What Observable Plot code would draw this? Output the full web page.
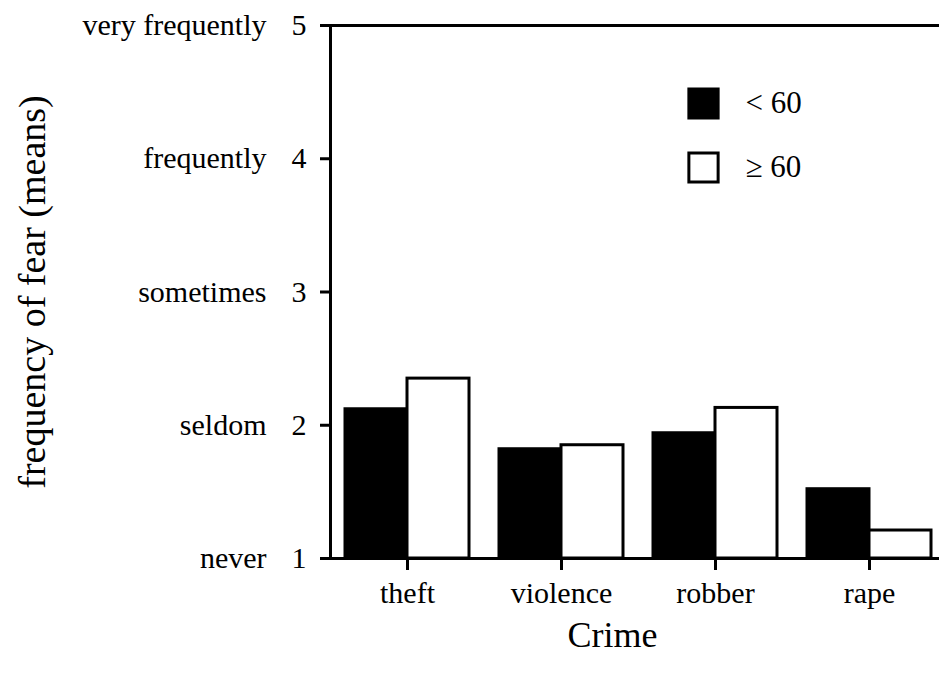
<!DOCTYPE html>
<html><head><meta charset="utf-8">
<script src="https://cdn.jsdelivr.net/npm/d3@7"></script>
<script src="https://cdn.jsdelivr.net/npm/@observablehq/plot@0.6"></script>
<style>
body{margin:0;background:#fff}
#chart{position:relative;width:939px;height:675px;overflow:hidden}
</style>
</head><body><div id="chart"></div>
<script>
const crimes = ["theft", "violence", "robber", "rape"];
const groups = ["< 60", "≥ 60"];
const under60 = [2.12, 1.82, 1.94, 1.52];
const over60 = [2.35, 1.85, 2.13, 1.21];
const yTicks = [1, 2, 3, 4, 5];
const yTickNames = ["never", "seldom", "sometimes", "frequently", "very frequently"];
const fills = ["#000", "#fff"];

const rowsA = crimes.map((c, i) => ({crime: c, group: groups[0], value: under60[i]}));
const rowsB = crimes.map((c, i) => ({crime: c, group: groups[1], value: over60[i]}));

const font = "'Liberation Serif', 'Times New Roman', serif";
const legendMarks = groups.flatMap((g, i) => [
  Plot.dot([g], {frameAnchor: "top-left", dx: 373, dy: 78 + i * 64, symbol: "square", r: 16.5, fill: fills[i], stroke: "#000", strokeWidth: 3}),
  Plot.text([g], {frameAnchor: "top-left", dx: 415, dy: 78 + i * 64, textAnchor: "start", lineAnchor: "middle", fontSize: 31, fill: "#000"})
]);

const plot = Plot.plot({
  width: 939, height: 675,
  marginLeft: 330, marginRight: -7, marginTop: 25, marginBottom: 117,
  style: {fontFamily: font, fontSize: "30px", color: "#000", background: "#fff", overflow: "visible"},
  x: {domain: crimes, paddingInner: 0.195, paddingOuter: 0.0975},
  y: {domain: [1, 5]},
  marks: [
    Plot.barY(rowsA, {x: "crime", y1: 1, y2: "value", fill: fills[0], stroke: "#000", strokeWidth: 3, insetRight: 62}),
    Plot.barY(rowsB, {x: "crime", y1: 1, y2: "value", fill: fills[1], stroke: "#000", strokeWidth: 3, insetLeft: 62}),
    Plot.frame({stroke: "#000", strokeWidth: 3}),
    Plot.axisY({ticks: yTicks, tickSize: 10, tickPadding: 14, tickFormat: d => d, label: null, strokeWidth: 3, fontSize: 30}),
    Plot.axisY({ticks: yTicks, tickSize: 0, tickPadding: 64, tickFormat: d => yTickNames[yTicks.indexOf(d)], label: null, fontSize: 30}),
    Plot.axisX({tickSize: 12, tickPadding: 11, label: null, strokeWidth: 3, fontSize: 30}),
    Plot.text(["frequency of fear (means)"], {frameAnchor: "left", textAnchor: "middle", dx: -298, rotate: -90, fontSize: 38, fill: "#000"}),
    Plot.text(["Crime"], {frameAnchor: "bottom", dy: 88, dx: -26, fontSize: 36, fill: "#000"}),
    ...legendMarks
  ]
});
document.getElementById("chart").appendChild(plot);
</script>
</body></html>
